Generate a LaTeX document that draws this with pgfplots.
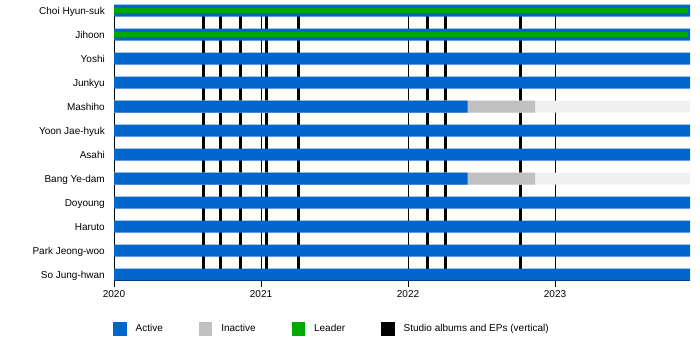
\documentclass[border=0pt]{standalone}
\usepackage{pgfplots}
\pgfplotsset{compat=1.18}
\usepackage{fontspec}
\setmainfont{Liberation Sans}
\definecolor{actblue}{HTML}{0066CC}
\definecolor{inactgray}{HTML}{C0C0C0}
\definecolor{departed}{HTML}{F0F0F0}
\definecolor{leadgreen}{HTML}{00AA00}
\newcommand\tlfont{\fontsize{10bp}{12bp}\selectfont}
\begin{document}
\begin{tikzpicture}
\useasboundingbox (0,0) rectangle (700bp,-350bp);
\begin{axis}[
  at={(114bp,-280.5bp)}, anchor=south west,
  scale only axis, width=576bp, height=280.5bp,
  xmin=0, xmax=3.918, ymin=-0.25, ymax=11.4375,
  axis lines*=left,
  y axis line style={draw=none},
  x axis line style={black, line width=0.9bp},
  xtick={0,1,2,3}, xticklabels={2020,2021,2022,2023},
  ytick={0,...,11},
  yticklabels={So Jung-hwan, Park Jeong-woo, Haruto, Doyoung, Bang Ye-dam, Asahi, Yoon Jae-hyuk, Mashiho, Junkyu, Yoshi, Jihoon, Choi Hyun-suk},
  tick label style={font=\tlfont},
  /pgf/number format/assume math mode=true,
  tick align=outside,
  xtick style={black, line width=0.8bp},
  major tick length=6bp,
  ytick style={draw=none},
  yticklabel style={inner sep=0pt, anchor=base east, xshift=-3bp, yshift=-3.6bp},
  xticklabel style={inner sep=0pt, anchor=north, yshift=-4bp},
  legend columns=4,
  legend cell align=left,
  legend style={at={(axis description cs:-0.0017,-0.1711)}, anchor=west, draw=none, fill=none, inner sep=0pt,
    font=\tlfont, nodes={inner sep=0pt},
    /tikz/every odd column/.append style={column sep=9.5bp},
    /tikz/every even column/.append style={column sep=36bp}},
]
\addlegendimage{legend image code/.code={\fill[actblue] (0bp,-6.25bp) rectangle (12.5bp,6.25bp);}}
\addlegendimage{legend image code/.code={\fill[inactgray] (0bp,-6.25bp) rectangle (12.5bp,6.25bp);}}
\addlegendimage{legend image code/.code={\fill[leadgreen] (0bp,-6.25bp) rectangle (12.5bp,6.25bp);}}
\addlegendimage{legend image code/.code={\fill[black] (0bp,-6.25bp) rectangle (12.5bp,6.25bp);}}
% year lines
\addplot[ycomb, black, line width=0.8bp, no markers, forget plot] coordinates {(0,11) (1,11) (2,11) (3,11)};
% studio albums and EPs
\addplot[ycomb, black, line width=3bp, no markers, forget plot] coordinates {
 (0.6075,11) (0.7231,11) (0.8592,11) (1.034,11) (1.2537,11) (2.1313,11) (2.2537,11) (2.7639,11)};
% bars
\addplot[xbar, bar width=12bp, bar shift=0pt, fill=departed, draw=none, forget plot] coordinates {(3.918,7) (3.918,4)};
\addplot[xbar, bar width=12bp, bar shift=0pt, fill=inactgray, draw=none, forget plot] coordinates {(2.864,7) (2.864,4)};
\addplot[xbar, bar width=12bp, bar shift=0pt, fill=actblue, draw=none, forget plot] coordinates {
 (3.918,11) (3.918,10) (3.918,9) (3.918,8) (2.406,7) (3.918,6) (3.918,5) (2.406,4) (3.918,3) (3.918,2) (3.918,1) (3.918,0)};
% leader
\addplot[leadgreen, line width=5bp, no markers, forget plot] coordinates {(0,11) (3.905,11)};
\addplot[leadgreen, line width=5bp, no markers, forget plot] coordinates {(0,10) (3.905,10)};
\legend{Active, Inactive, Leader, Studio albums and EPs (vertical)}
\end{axis}
\end{tikzpicture}
\end{document}
